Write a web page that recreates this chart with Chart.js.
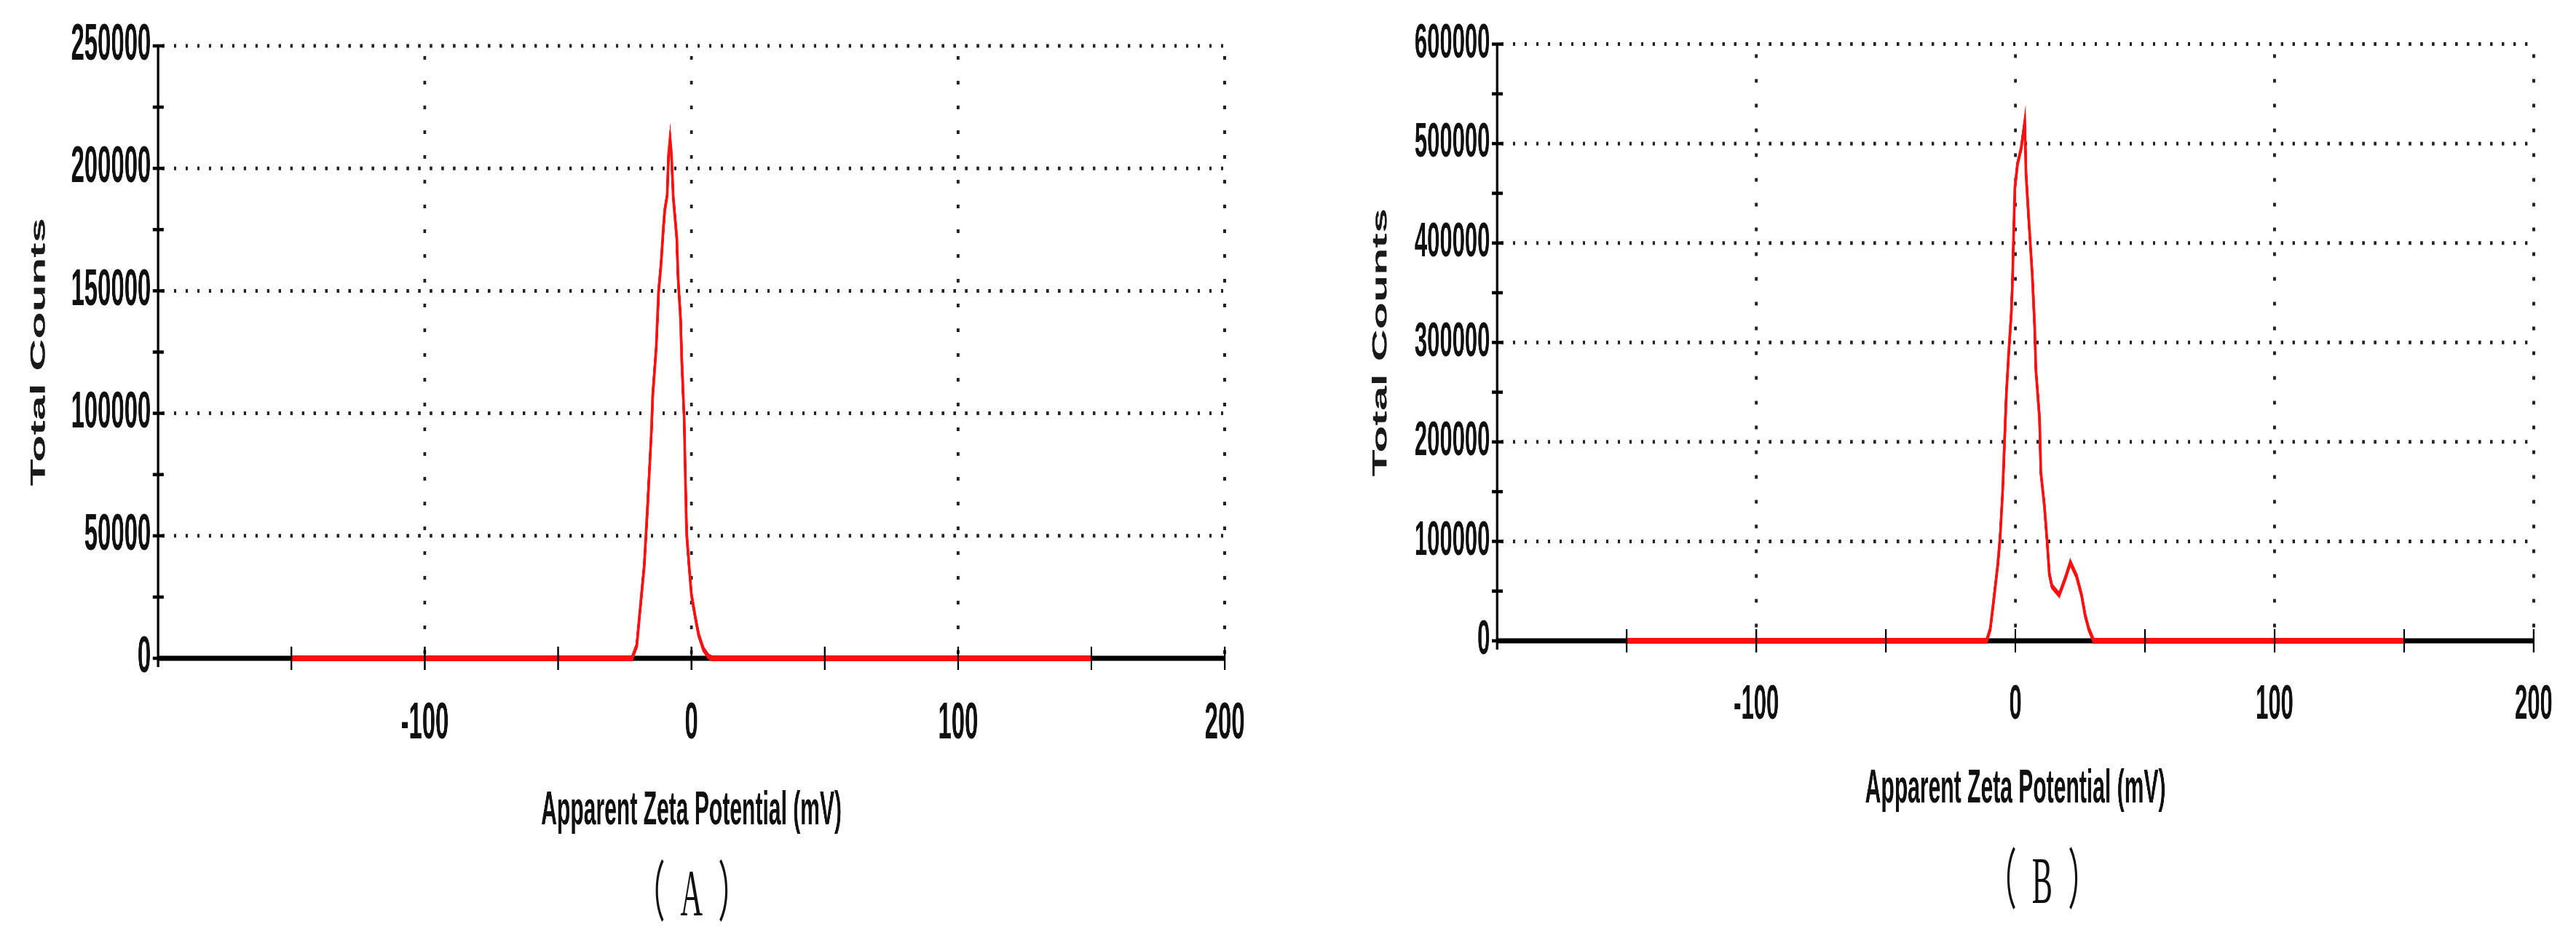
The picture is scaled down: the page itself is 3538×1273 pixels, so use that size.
<!DOCTYPE html>
<html>
<head>
<meta charset="utf-8">
<script src="https://cdn.jsdelivr.net/npm/chart.js@4.4.1/dist/chart.umd.min.js"></script>
<style>
  html, body { margin: 0; padding: 0; background: #fff; overflow: hidden; }
  #stage {
    position: absolute; left: 0; top: 0;
    width: 7528px; height: 1273px;
    transform: scaleX(0.47); transform-origin: 0 0;
  }
  #stage canvas { position: absolute; top: 0; width: 3764px; height: 1273px; }
  .panel {
    position: absolute; transform: translate(-50%, -50%);
    font: 90px "Liberation Serif", "Noto Sans CJK SC", serif;
    line-height: 1; color: #111; white-space: nowrap;
    letter-spacing: 45px; padding-left: 45px;
  }
</style>
</head>
<body>
<div id="stage">
  <canvas id="chartA" width="3764" height="1273" style="left:0"></canvas>
  <canvas id="chartB" width="3764" height="1273" style="left:3764px"></canvas>
  <div class="panel" style="left:2021px; top:1227px">（A）</div>
  <div class="panel" style="left:5968px; top:1210px">（B）</div>
</div>
<script>
// zeta potential (mV) and total counts
const zetaA = [-150, -22.3, -20.5, -19.5, -17.7, -16.4, -15.0, -14.5, -13.2, -12.3, -11.4,
  -10.5, -10.0, -9.1, -8.6, -8.0, -7.5, -6.8, -5.5, -5.0, -4.1, -3.6, -2.7, -2.3, -1.8,
  -0.9, 0, 1.4, 2.7, 4.5, 6.4, 7.7, 150];
const countsA = [0, 0, 5200, 17000, 37800, 63000, 92700, 107500, 127000, 150000, 161000,
  176000, 183000, 189000, 205000, 212000, 205600, 188000, 171500, 155000, 139000, 121000,
  97000, 75000, 51000, 38000, 26000, 17000, 9600, 3700, 700, 0, 0];

const zetaB = [-150, -11.1, -9.7, -8.3, -6.8, -5.9, -4.9, -4.0, -3.5, -2.6, -1.6, -1.1,
  -0.7, -0.2, 0.8, 2.2, 3.6, 4.1, 5.0, 6.5, 7.4, 7.9, 9.3, 9.8, 11.2, 12.2, 13.1, 14.1,
  16.9, 19.3, 21.2, 23.6, 25.5, 26.9, 28.3, 30.2, 150];
const countsB = [0, 0, 12000, 42800, 77000, 104500, 152000, 214000, 248000, 289000, 329000,
  365000, 409000, 455500, 479500, 495000, 522000, 469000, 430000, 368000, 317000, 272000,
  224000, 169500, 135000, 101000, 66800, 54800, 46200, 63400, 78800, 65000, 46200, 25700,
  12000, 0, 0];

// x tick labels that are printed (others only get a tick mark)
const xLabeled = [-100, 0, 100, 200];
const xTitle = "Apparent Zeta Potential (mV)";
const yTitle = "Total Counts";

function seg(ctx, x1, y1, x2, y2) {
  ctx.beginPath();
  ctx.moveTo(x1, y1);
  ctx.lineTo(x2, y2);
  ctx.stroke();
}

// dotted grid, axis lines and the little cross ticks
const frame = {
  id: 'frame',
  beforeDatasetsDraw(chart) {
    const {ctx, chartArea: a, scales: {x, y}} = chart;
    const y0 = y.getPixelForValue(0);
    const x0 = x.getPixelForValue(x.min);
    ctx.save();
    ctx.strokeStyle = '#222';
    ctx.lineWidth = 5;
    ctx.setLineDash([7, 27]);
    y.ticks.forEach(t => {
      if (t.label === '' || t.value === 0) return;
      const py = y.getPixelForValue(t.value);
      seg(ctx, x0 + 12, py, a.right, py);
    });
    ctx.lineWidth = 8;
    ctx.setLineDash([5, 29]);
    x.ticks.forEach(t => {
      if (t.label === '') return;
      const px = x.getPixelForValue(t.value);
      seg(ctx, px, a.top + 14, px, y0);
    });
    ctx.setLineDash([]);
    ctx.strokeStyle = '#000';
    ctx.lineWidth = 7;
    seg(ctx, a.left, y0, a.right, y0);
    ctx.lineWidth = 7;
    seg(ctx, x0, a.top, x0, y0 + 12);
    ctx.restore();
  },
  afterDatasetsDraw(chart) {
    const {ctx, scales: {x, y}} = chart;
    const y0 = y.getPixelForValue(0);
    const x0 = x.getPixelForValue(x.min);
    ctx.save();
    ctx.strokeStyle = '#000';
    ctx.lineWidth = 5;
    x.ticks.forEach(t => {
      if (t.value === x.min) return;
      const px = x.getPixelForValue(t.value);
      seg(ctx, px, y0 - 16, px, y0 + 16);
    });
    ctx.lineWidth = 4.5;
    y.ticks.forEach(t => {
      const py = y.getPixelForValue(t.value);
      seg(ctx, x0 - 16, py, x0 + 16, py);
    });
    ctx.restore();
  }
};

function makeChart(id, xs, ys, cfg) {
  const points = xs.map((v, i) => ({x: v, y: ys[i]}));
  return new Chart(document.getElementById(id), {
    type: 'line',
    data: {
      datasets: [{
        data: points,
        borderColor: '#ff1010',
        borderWidth: 8,
        pointRadius: 0,
        tension: 0,
        clip: false
      }]
    },
    options: {
      responsive: false,
      animation: false,
      devicePixelRatio: 1,
      events: [],
      layout: {padding: {left: 0, right: cfg.right, top: cfg.top, bottom: 0}},
      plugins: {legend: {display: false}, tooltip: {enabled: false}},
      scales: {
        x: {
          type: 'linear',
          min: -200, max: 200,
          grid: {display: false, drawTicks: false},
          border: {display: false},
          ticks: {
            stepSize: 50, autoSkip: false, maxRotation: 0,
            padding: 49, color: '#111',
            font: {family: 'Liberation Sans, Arial, sans-serif', size: cfg.tickSize, weight: 'bold'},
            callback: v => xLabeled.includes(v) ? String(v) : ''
          },
          title: {
            display: true, text: xTitle, color: '#111',
            font: {family: 'Liberation Sans, Arial, sans-serif', size: 64, weight: 'bold'},
            padding: {top: 0, bottom: cfg.xTitlePad}
          },
          afterFit: s => { s.height = 1273 - cfg.bottom; }
        },
        y: {
          min: 0, max: cfg.yMax,
          grid: {display: false, drawTicks: false},
          border: {display: false},
          ticks: {
            stepSize: cfg.yStep / 2, autoSkip: false,
            padding: 21, color: '#111',
            font: {family: 'Liberation Sans, Arial, sans-serif', size: cfg.tickSize, weight: 'bold'},
            callback: v => v % cfg.yStep === 0 ? String(v) : ''
          },
          title: {
            display: true, text: yTitle, color: '#1a1a1a',
            font: {family: 'Liberation Sans, Arial, sans-serif', size: 61, weight: 'bold'},
            padding: {top: cfg.yTitlePad, bottom: 0}
          },
          afterFit: s => { s.width = cfg.left; }
        }
      }
    },
    plugins: [frame]
  });
}

makeChart('chartA', zetaA, countsA, {
  left: 462, right: 185, top: 45, bottom: 904,
  yMax: 250000, yStep: 50000, tickSize: 70,
  xTitlePad: 120, yTitlePad: 78
});
makeChart('chartB', zetaB, countsB, {
  left: 611, right: 124, top: 43, bottom: 880,
  yMax: 600000, yStep: 100000, tickSize: 66,
  xTitlePad: 150, yTitlePad: 235
});
</script>
</body>
</html>
